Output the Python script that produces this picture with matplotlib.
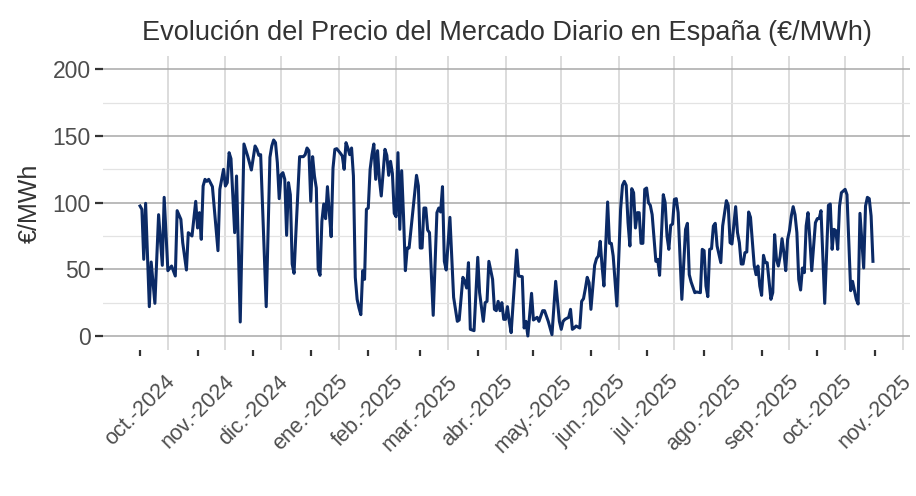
import matplotlib
matplotlib.use("Agg")
import matplotlib.pyplot as plt
import matplotlib.dates as mdates
import numpy as np
import pandas as pd

plt.rcParams['font.family'] = ['Liberation Sans', 'DejaVu Sans']

# ---- data ----
fecha_inicio = "2024-10-01"
dias = [0, 1, 2, 3, 5, 6, 8, 10, 12, 13, 15, 17, 19, 20, 22, 23, 25, 26, 28, 30,
        31, 32, 33, 34, 35, 36, 37, 39, 42, 43, 45, 46, 47, 48, 49, 51, 52, 54, 56, 58,
        60, 62, 63, 64, 65, 68, 70, 71, 72, 73, 74, 75, 76, 77, 78, 79, 80, 81, 82, 83,
        84, 86, 88, 89, 90, 91, 92, 93, 94, 95, 96, 97, 98, 99, 100, 101, 102, 103, 104, 105,
        106, 108, 109, 110, 111, 112, 113, 114, 115, 116, 117, 118, 119, 120, 121, 122, 123, 124, 125, 126,
        127, 128, 129, 130, 132, 133, 134, 135, 136, 137, 138, 139, 140, 141, 142, 143, 144, 145, 149, 150,
        151, 152, 153, 154, 155, 156, 158, 160, 161, 162, 163, 164, 165, 167, 168, 169, 171, 172, 174, 175,
        176, 177, 178, 180, 182, 183, 185, 186, 187, 188, 190, 191, 192, 193, 194, 195, 196, 197, 198, 199,
        200, 203, 204, 206, 207, 208, 209, 211, 212, 214, 215, 217, 218, 220, 222, 224, 226, 227, 228, 229,
        231, 232, 233, 234, 235, 237, 238, 239, 240, 241, 242, 243, 245, 246, 247, 248, 249, 250, 251, 252,
        253, 254, 255, 257, 259, 260, 261, 262, 263, 264, 265, 266, 267, 268, 269, 270, 271, 272, 273, 274,
        275, 276, 278, 279, 280, 281, 282, 283, 284, 285, 286, 287, 288, 289, 290, 292, 294, 295, 296, 297,
        299, 300, 302, 303, 304, 305, 306, 307, 308, 309, 310, 311, 313, 314, 316, 317, 318, 319, 321, 322,
        323, 324, 325, 326, 327, 328, 329, 331, 332, 333, 334, 335, 336, 337, 338, 340, 341, 342, 343, 344,
        345, 346, 347, 348, 349, 350, 351, 352, 353, 354, 355, 356, 357, 358, 359, 360, 361, 362, 363, 364,
        365, 366, 367, 369, 371, 372, 373, 374, 375, 376, 377, 378, 380, 381, 382, 383, 384, 386, 387, 388,
        390, 391, 392, 393, 394, 395]
precios = [97.5, 95, 57.5, 99.5, 22, 55.5, 24.5, 91, 53, 104, 49, 52.5, 45, 94, 87.5, 70, 49.5, 77.5, 75, 101,
           81, 92.5, 72.5, 112.5, 117.5, 116, 117.5, 112, 64, 110, 125, 112.5, 115, 137.5, 133, 77.5, 120, 10.5, 144, 135,
           124.5, 142.5, 140, 135.5, 136, 22, 134, 142.5, 147, 145, 130, 103, 121, 122.5, 117.5, 75.5, 115, 106, 54, 47,
           77.5, 134.5, 134.5, 136, 141, 139, 101, 134.5, 120, 111, 50, 45.5, 86, 99, 88, 112, 92.5, 74.5, 126, 140,
           140.5, 137, 135, 125, 145, 141, 136, 141, 120, 44, 27.5, 21, 16, 49, 42.5, 95, 96, 125, 136, 144,
           117.5, 139, 117.5, 105, 140, 135.5, 120.5, 131, 122, 92, 89.5, 137.5, 80, 124, 90, 49, 66, 66, 120.5, 112.5,
           66, 66, 96, 96, 79.5, 77.5, 15.5, 92.5, 96, 93, 112, 56, 49.5, 89, 59, 29, 11, 12, 44, 41,
           36, 55, 5, 4, 59, 32.5, 11, 25, 26, 56, 42.5, 20, 19, 26, 19, 25, 12.5, 12.5, 22, 11,
           2.5, 64.5, 45, 44.5, 6, 11, 0, 32, 12, 14, 11, 19, 19, 11, 1, 41, 11, 5, 11, 12.5,
           14, 20, 5, 6, 7.5, 6, 26, 28, 35.5, 44, 40, 20, 53, 58, 60, 71, 52.5, 37.5, 69, 100.5,
           69.5, 69.5, 60, 22.5, 95, 113, 116, 113, 85, 67.5, 110.5, 107.5, 81, 92.5, 92.5, 69.5, 69.5, 110, 111, 100,
           98, 91, 56, 57.5, 45.5, 76, 106, 100, 75, 65, 83, 84, 102.5, 103, 92.5, 27.5, 80, 84.5, 46, 40.5,
           32.5, 33, 32.5, 65, 64, 37.5, 29.5, 65, 65.5, 82.5, 84.5, 67.5, 55, 82.5, 101.5, 98, 70, 69, 97, 77.5,
           70, 54, 54, 62.5, 63, 93, 89, 53, 46, 52.5, 37.5, 30.5, 60.5, 55, 55, 27.5, 32.5, 76, 57.5, 52.5,
           60, 73, 62.5, 49, 72.5, 79, 90, 97, 91, 77.5, 42.5, 34.5, 51, 47.5, 82.5, 92.5, 72.5, 49, 67.5, 85,
           88, 88, 94, 24.5, 98, 99, 65, 80, 79, 65, 97.5, 107.5, 110, 106, 70, 34, 41, 27.5, 24, 92,
           51, 97.5, 104, 103, 90, 56]

meses_ticks = ["2024-10-01", "2024-11-01", "2024-12-01", "2025-01-01", "2025-02-01",
               "2025-03-01", "2025-04-01", "2025-05-01", "2025-06-01", "2025-07-01",
               "2025-08-01", "2025-09-01", "2025-10-01", "2025-11-01"]
etiquetas_x = ["oct.-2024", "nov.-2024", "dic.-2024", "ene.-2025", "feb.-2025",
               "mar.-2025", "abr.-2025", "may.-2025", "jun.-2025", "jul.-2025",
               "ago.-2025", "sep.-2025", "oct.-2025", "nov.-2025"]
ticks_y = [0, 50, 100, 150, 200]
ticks_y_menores = [25, 75, 125, 175]

titulo = "Evolución del Precio del Mercado Diario en España (€/MWh)"
etiqueta_y = "€/MWh"

# ---- figure ----
W, H = 916, 496
fig = plt.figure(figsize=(W / 100, H / 100), dpi=100)
fig.patch.set_facecolor("white")

px_l, px_r, px_t, px_b = 103.4, 909.6, 56, 350
ax = fig.add_axes([px_l / W, 1 - px_b / H, (px_r - px_l) / W, (px_b - px_t) / H])
ax.set_facecolor("white")

fechas = pd.to_datetime(fecha_inicio) + pd.to_timedelta(dias, unit="D")
x = mdates.date2num(fechas)

xmin, xmax = x.min(), x.max()
exp = 0.05 * (xmax - xmin)
ax.set_xlim(xmin - exp, xmax + exp)
ax.set_ylim(-10.5, 210)

# grid
grid_v = mdates.date2num(pd.date_range("2024-09-16", "2025-11-16", freq="MS") + pd.Timedelta(days=15))
for gv in grid_v:
    ax.axvline(gv, color="#D6D6D6", lw=1.2, zorder=1)
for gy in ticks_y_menores:
    ax.axhline(gy, color="#E3E3E3", lw=0.9, zorder=1)
for gy in ticks_y:
    ax.axhline(gy, color="#A8A8A8", lw=1.1, zorder=1.5)

ax.plot(x, precios, color="#0B2A66", lw=2.2, zorder=3, solid_joinstyle="round")

for s in ax.spines.values():
    s.set_visible(False)

ax.set_xticks(mdates.date2num(pd.to_datetime(meses_ticks)))
ax.set_xticklabels(etiquetas_x, rotation=45, ha="center", va="top",
                   fontsize=15.5, color="#4D4D4D")
ax.set_yticks(ticks_y)
ax.set_yticklabels([str(t) for t in ticks_y], fontsize=16.5, color="#4D4D4D")
ax.tick_params(axis="x", direction="out", length=4.5, width=1.6, color="#333333", pad=11)
ax.tick_params(axis="y", direction="out", length=6, width=1.6, color="#333333", pad=3)

ax.set_ylabel(etiqueta_y, fontsize=18, color="#333333", labelpad=8)
fig.text(((px_l + px_r) / 2) / W, 1 - 40 / H, titulo, ha="center", va="baseline",
         fontsize=19.5, color="#333333")

fig.savefig("out.png", dpi=100, facecolor="white")
